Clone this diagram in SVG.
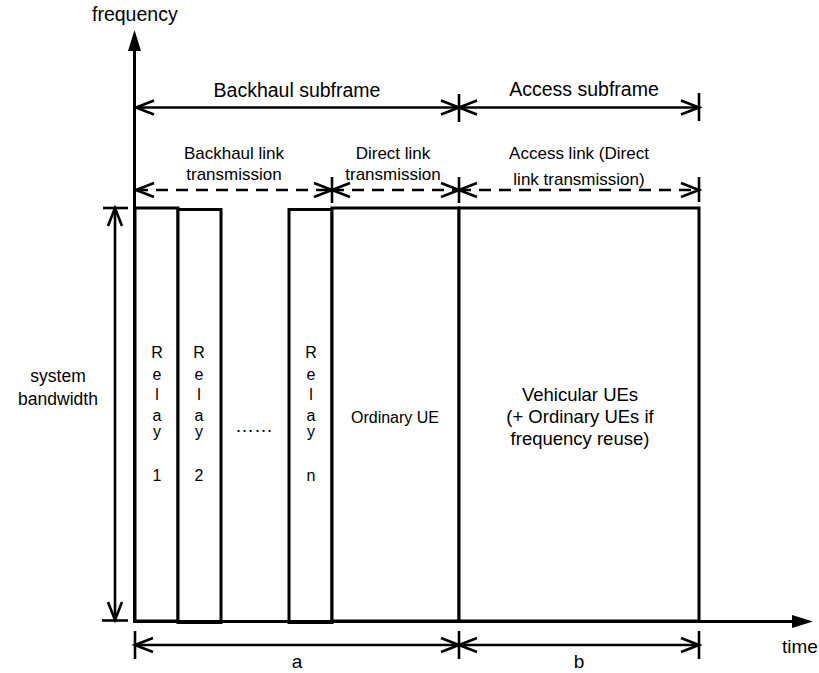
<svg xmlns="http://www.w3.org/2000/svg" width="819" height="673" viewBox="0 0 819 673">
<style>
  text { font-family: "Liberation Sans", Arial, Helvetica, sans-serif; fill: #000; }
  .box { fill: #fff; stroke: #000; stroke-width: 3; }
  .dim { stroke: #000; stroke-width: 2.6; fill: none; }
  .dash { stroke: #000; stroke-width: 2.6; fill: none; stroke-dasharray: 12 8; }
  .tick { stroke: #000; stroke-width: 2.6; }
  .axis { stroke: #000; stroke-width: 3; }
  .mid { text-anchor: middle; }
  .big { font-size: 19.5px; }
  .med { font-size: 17px; }
  .rl { font-size: 16px; text-anchor: middle; }
</style>
<defs>
  <marker id="chev" markerUnits="userSpaceOnUse" viewBox="-22 -10 24 20" refX="0" refY="0" markerWidth="24" markerHeight="20" orient="auto-start-reverse" overflow="visible">
    <path d="M -18 -7 L 0 0 L -18 7" fill="none" stroke="#000" stroke-width="2.6"/>
  </marker>
</defs>

<g id="relay1">
  <rect class="box" x="135" y="208" width="43" height="413"/>
  <text class="rl" x="157" y="358">R</text>
  <text class="rl" x="157" y="380">e</text>
  <text class="rl" x="157" y="400">l</text>
  <text class="rl" x="157" y="421">a</text>
  <text class="rl" x="157" y="437">y</text>
  <text class="rl" x="157" y="481">1</text>
</g>
<g id="relay2">
  <rect class="box" x="178" y="209.5" width="43" height="413"/>
  <text class="rl" x="199" y="358">R</text>
  <text class="rl" x="199" y="380">e</text>
  <text class="rl" x="199" y="400">l</text>
  <text class="rl" x="199" y="421">a</text>
  <text class="rl" x="199" y="437">y</text>
  <text class="rl" x="199" y="481">2</text>
</g>
<g id="dots">
  <text x="254" y="432" class="mid" style="font-size:19px">……</text>
</g>
<g id="relayn">
  <rect class="box" x="289" y="209.5" width="43" height="413"/>
  <text class="rl" x="311" y="358">R</text>
  <text class="rl" x="311" y="380">e</text>
  <text class="rl" x="311" y="400">l</text>
  <text class="rl" x="311" y="421">a</text>
  <text class="rl" x="311" y="437">y</text>
  <text class="rl" x="311" y="481">n</text>
</g>
<g id="ordinary-ue">
  <rect class="box" x="332" y="208" width="127" height="413"/>
  <text class="mid" x="395" y="423" style="font-size:16px">Ordinary UE</text>
</g>
<g id="vehicular-ues">
  <rect class="box" x="459" y="208" width="240" height="413"/>
  <text class="mid" x="580" y="401" style="font-size:18.5px">Vehicular UEs</text>
  <text class="mid" x="580" y="423" style="font-size:18.5px">(+ Ordinary UEs if</text>
  <text class="mid" x="580" y="445" style="font-size:18.5px">frequency reuse)</text>
</g>

<g id="connectors">
  <!-- axes -->
  <line class="axis" x1="134.5" y1="623" x2="134.5" y2="46"/>
  <polygon points="134.5,30 128,51 141,51" fill="#000"/>
  <line class="axis" x1="133" y1="621.5" x2="797" y2="621.5"/>
  <polygon points="813,621.5 792,615 792,628" fill="#000"/>

  <!-- top solid dimension arrows -->
  <line class="dim" x1="136" y1="107.5" x2="459" y2="107.5" marker-start="url(#chev)" marker-end="url(#chev)"/>
  <line class="dim" x1="459" y1="107.5" x2="699" y2="107.5" marker-start="url(#chev)" marker-end="url(#chev)"/>
  <line class="tick" x1="459" y1="94" x2="459" y2="122"/>
  <line class="tick" x1="699" y1="93" x2="699" y2="121"/>

  <!-- dashed dimension arrows -->
  <line class="dash" x1="136" y1="190" x2="332" y2="190" marker-start="url(#chev)" marker-end="url(#chev)"/>
  <line class="dash" x1="332" y1="190" x2="459" y2="190" marker-start="url(#chev)" marker-end="url(#chev)"/>
  <line class="dash" x1="459" y1="190" x2="699" y2="190" marker-start="url(#chev)" marker-end="url(#chev)"/>
  <line class="tick" x1="332" y1="177" x2="332" y2="203"/>
  <line class="tick" x1="459" y1="177" x2="459" y2="203"/>
  <line class="tick" x1="699" y1="177" x2="699" y2="202"/>

  <!-- system bandwidth -->
  <line class="dim" x1="115" y1="208" x2="115" y2="620" marker-start="url(#chev)" marker-end="url(#chev)"/>
  <line class="tick" x1="103" y1="208" x2="128" y2="208"/>
  <line class="tick" x1="102" y1="620.5" x2="128" y2="620.5"/>

  <!-- bottom a / b -->
  <line class="dim" x1="135" y1="645" x2="459" y2="645" marker-start="url(#chev)" marker-end="url(#chev)"/>
  <line class="dim" x1="459" y1="645" x2="699" y2="645" marker-start="url(#chev)" marker-end="url(#chev)"/>
  <line class="tick" x1="135" y1="631" x2="135" y2="659"/>
  <line class="tick" x1="459" y1="631" x2="459" y2="659"/>
  <line class="tick" x1="699" y1="631" x2="699" y2="659"/>
</g>

<g id="labels">
  <text x="92" y="21" style="font-size:19.5px">frequency</text>
  <text x="782" y="653" style="font-size:19px">time</text>
  <text class="mid big" x="297" y="96.5">Backhaul subframe</text>
  <text class="mid big" x="584" y="96">Access subframe</text>
  <text class="mid med" x="234" y="159">Backhaul link</text>
  <text class="mid med" x="234" y="180">transmission</text>
  <text class="mid med" x="393" y="159">Direct link</text>
  <text class="mid med" x="393" y="180">transmission</text>
  <text class="mid med" x="579" y="159">Access link (Direct</text>
  <text class="mid med" x="579" y="185">link transmission)</text>
  <text class="mid" x="58" y="382" style="font-size:17.5px">system</text>
  <text class="mid" x="58" y="405" style="font-size:17.5px">bandwidth</text>
  <text class="mid" x="297" y="668" style="font-size:19px">a</text>
  <text class="mid" x="579" y="668" style="font-size:19px">b</text>
</g>
</svg>
